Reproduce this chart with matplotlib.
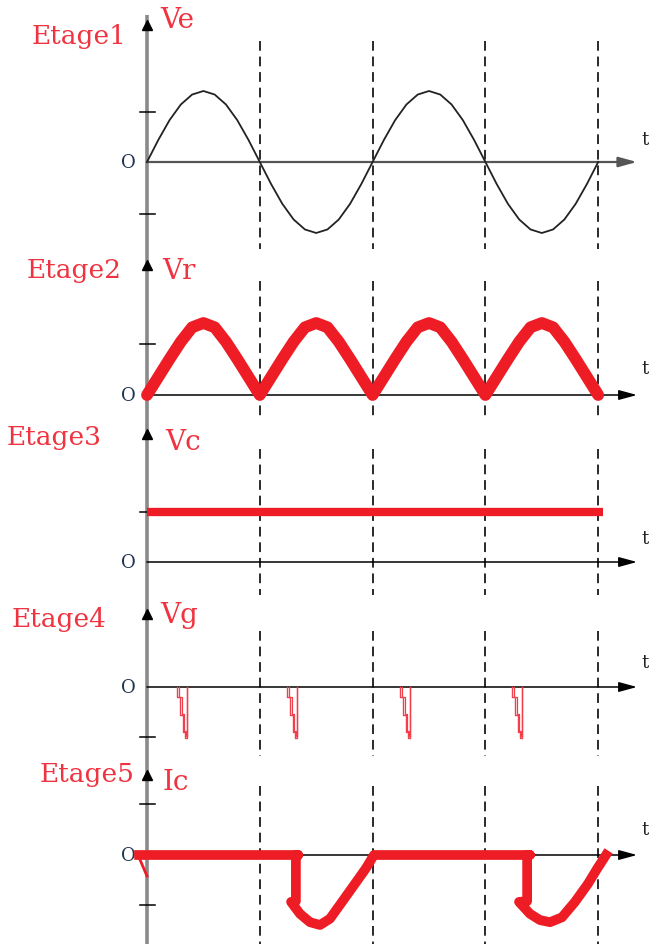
import matplotlib
matplotlib.use("Agg")
import matplotlib.pyplot as plt

# temps en ms (deux périodes à 50 Hz)
t = list(range(0, 41))

# Etage1 : tension d'entrée Ve
ve = [0, .31, .59, .81, .95, 1, .95, .81, .59, .31,
      0, -.31, -.59, -.81, -.95, -1, -.95, -.81, -.59, -.31,
      0, .31, .59, .81, .95, 1, .95, .81, .59, .31,
      0, -.31, -.59, -.81, -.95, -1, -.95, -.81, -.59, -.31, 0]

# Etage2 : tension redressée Vr (tracé épais, presque triangulaire)
vr = [0, .25, .5, .74, .94, 1, .94, .74, .5, .25,
      0, .25, .5, .74, .94, 1, .94, .74, .5, .25,
      0, .25, .5, .74, .94, 1, .94, .74, .5, .25,
      0, .25, .5, .74, .94, 1, .94, .74, .5, .25, 0]

# Etage3 : tension continue Vc
t_vc = [0, 40.4]
vc = [1, 1]

# Etage4 : impulsions de gâchette Vg
vg_start = [2.66, 12.41, 22.43, 32.36]
vg_dt = [0, 0, 0.3, 0.3, 0.5, 0.5, 0.7, 0.7, 0.88, 0.88]
vg = [0, -0.2, -0.2, -0.55, -0.55, -0.9, -0.9, -1.02, -1.02, 0]

# Etage5 : courant Ic
t_ic = [-0.7, 13.4, 13.2, 13.2, 12.77, 13.56, 14.45, 15.34, 16.22, 17.29, 18.44, 19.41, 20.12,
        33.95, 33.7, 33.7, 32.98, 33.95, 34.84, 35.73, 36.79, 37.94, 39.1, 39.89, 40.69]
ic = [0, 0, 0, -0.66, -0.67, -0.84, -0.96, -1.0, -0.91, -0.67, -0.41, -0.19, 0,
      0, 0, -0.66, -0.67, -0.84, -0.93, -0.96, -0.89, -0.67, -0.41, -0.2, 0]
t_ic_tail = [-0.8, 0]
ic_tail = [0, -0.3]

# repères de graduation sur l'axe vertical
ticks = [[0.7, -0.73], [0.71], [1.0], [-1.0], [0.73, -0.71]]

etages = ["Etage1", "Etage2", "Etage3", "Etage4", "Etage5"]
noms = ["Ve", "Vr", "Vc", "Vg", "Ic"]
demi_periodes = [10, 20, 30, 40]

# mise en page (pixels de l'image 649x945)
W, H = 649, 945
X0, PXMS = 147, 11.28
def px(x):
    return (x - X0) / PXMS

zeros = [163, 396, 563, 688, 856]
bands = [(0, 250), (250, 420), (420, 595), (595, 760), (760, 945)]
scales = [71, 72, 50, 50, 70]
arrow_tips = [22, 262, 431, 611, 772]
dash_spans = [(42, 250), (282, 417), (450, 596), (632, 757), (787, 945)]
label_pos = [(32, 44), (27, 278), (7, 445), (12, 627), (40, 782)]
name_pos = [(160, 28), (162, 279), (165, 450), (160, 623), (163, 790)]
t_pos = [140, 369, 539, 663, 830]

RED = "#ee1c25"
TXT_RED = "#ef3340"
serif = ["DejaVu Serif"]

fig = plt.figure(figsize=(W / 100, H / 100), dpi=100)
bg = fig.add_axes([0, 0, 1, 1])
bg.set_xlim(px(0), px(W))
bg.set_ylim(H, 0)
bg.axis("off")

# axe vertical commun
bg.plot([0, 0], [16, H], color="#8a8a8a", lw=2.6, solid_capstyle="butt", zorder=2)

axes = []
for i in range(5):
    top, bot = bands[i]
    ax = fig.add_axes([0, 1 - bot / H, 1, (bot - top) / H])
    ax.set_xlim(px(0), px(W))
    ax.set_ylim((zeros[i] - bot) / scales[i], (zeros[i] - top) / scales[i])
    ax.axis("off")
    ax.patch.set_alpha(0)
    axes.append(ax)

    # pointillés aux demi-périodes
    for d in demi_periodes:
        bg.plot([d, d], dash_spans[i], color="#2a2a2a", lw=1.4,
                linestyle=(0, (5, 3)), zorder=1)

    # axe horizontal avec flèche
    col = "#555555" if i == 0 else "black"
    bg.annotate("", xy=(px(637), zeros[i]), xytext=(0, zeros[i]),
                arrowprops=dict(arrowstyle="-|>,head_length=1.1,head_width=0.3",
                                color=col, lw=1.6 if i == 0 else 1.1,
                                shrinkA=0, shrinkB=0), zorder=3)
    # flèche de l'axe vertical
    bg.plot(0, arrow_tips[i] + 4, marker="^", ms=7, color="black", zorder=4)

    # graduations
    for v in ticks[i]:
        ax.plot([px(140), px(155)], [v, v], color="black", lw=1.1, zorder=3)

    bg.text(px(label_pos[i][0]), label_pos[i][1], etages[i], color=TXT_RED,
            fontsize=19, family=serif, va="baseline", ha="left")
    bg.text(px(name_pos[i][0]), name_pos[i][1], noms[i], color=TXT_RED,
            fontsize=20, family=serif, va="baseline", ha="left")
    bg.text(px(121), zeros[i], "O", color="#1f3350", fontsize=13,
            family=serif, va="center", ha="left")
    bg.text(px(641), t_pos[i], "t", color="#222222", fontsize=13,
            family=serif, va="center", ha="left")

axes[0].plot(t, ve, color="#222222", lw=1.3, zorder=4)
axes[1].plot(t, vr, color=RED, lw=8.5, solid_capstyle="round",
             solid_joinstyle="round", zorder=4)
axes[2].plot(t_vc, vc, color=RED, lw=6, solid_capstyle="butt", zorder=4)
for s in vg_start:
    axes[3].plot([s + d for d in vg_dt], vg, color="#f0404c", lw=1.0, zorder=4)
    axes[3].plot([s + 0.18 + d * 0.85 for d in vg_dt], [v * 0.97 for v in vg],
                 color="#f0404c", lw=0.9, zorder=4)
axes[4].plot(t_ic, ic, color=RED, lw=7, solid_joinstyle="round", zorder=4)
axes[4].plot(t_ic_tail, ic_tail, color=RED, lw=2, zorder=4)

fig.savefig("out.png", dpi=100)
